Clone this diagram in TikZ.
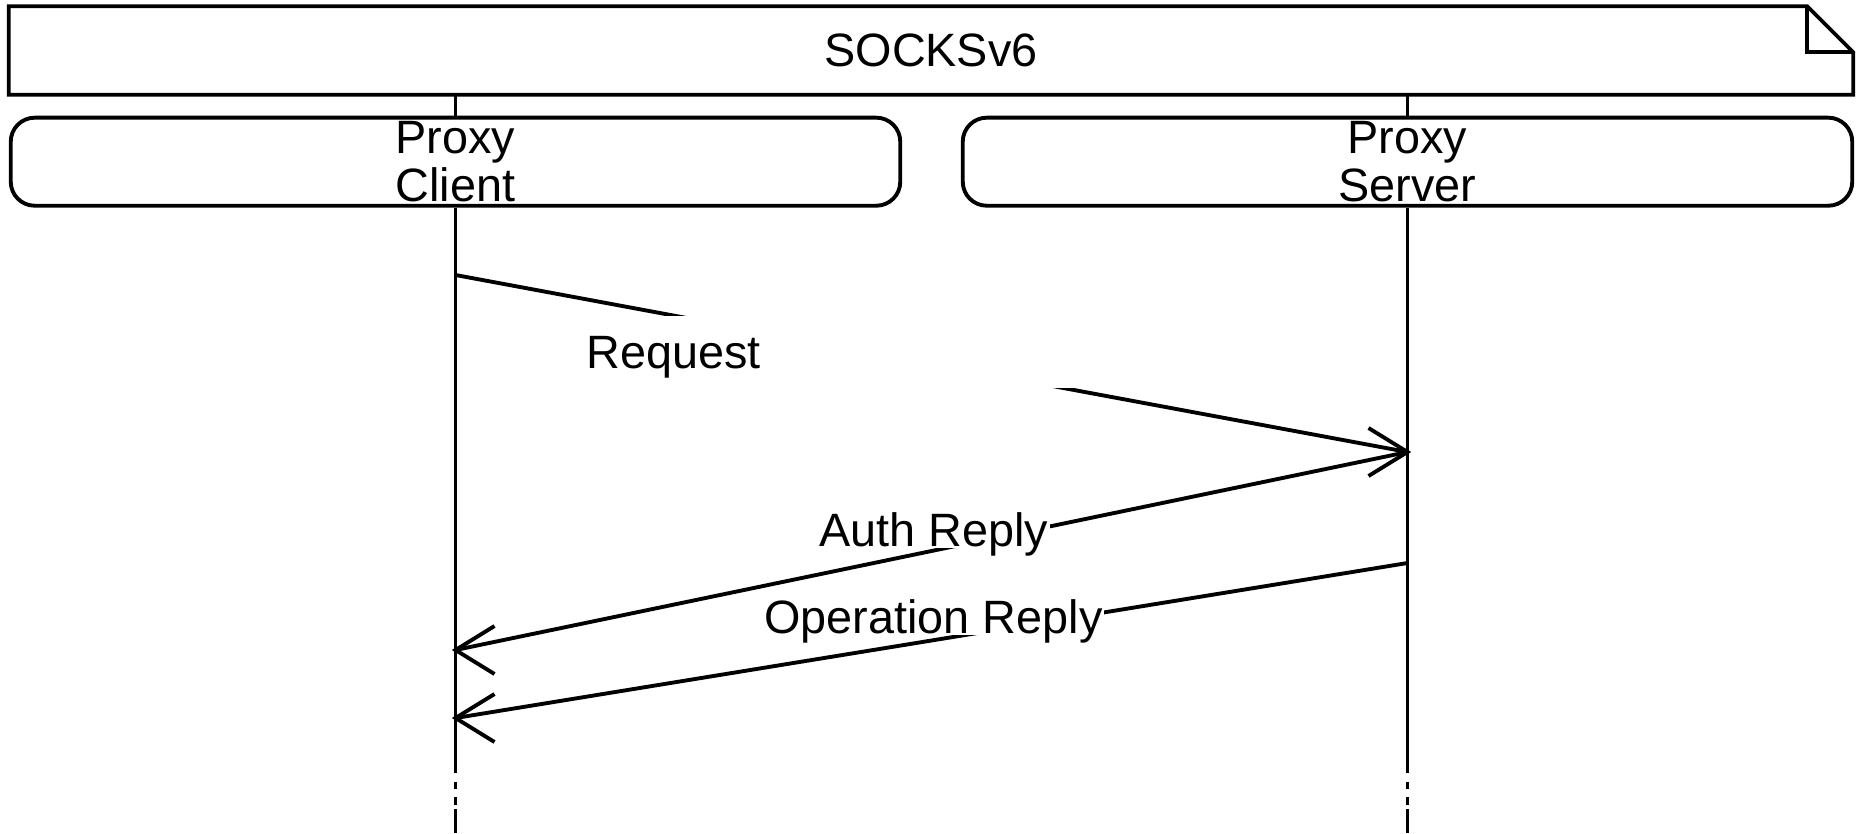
\documentclass[tikz,border=0pt]{standalone}
\usepackage{fontspec}
\setmainfont{Liberation Sans}
\usetikzlibrary{calc,positioning}

\tikzset{
  actor/.style={draw, line width=1.1pt, rounded corners=0.24cm, inner ysep=0pt, minimum width=8.89cm, minimum height=0.88cm, align=center, font=\fontsize{13.3}{13.6}\selectfont},
  lifeline/.style={line width=1.1pt},
  lifelineend/.style={line width=1.1pt, dash pattern=on 0pt off 0.09cm on 0.07cm off 0.08cm on 0.08cm off 0.04cm on 0.3cm},
  msg/.style={line width=1.1pt},
  lbl/.style={fill=white, inner sep=0.5pt, text depth=0pt, font=\fontsize{13.3}{15}\selectfont},
}
% open barb at a lifeline, #2 = -1 points right, 1 points left
\newcommand{\barb}[2]{\draw[msg] ($(#1)+(#2*39,-24)$) -- (#1) -- ($(#1)+(#2*39,24)$);}

\begin{document}
\begin{tikzpicture}[x=0.01cm, y=-0.01cm]
  \useasboundingbox (0,0) rectangle (1864,833);
  % Draw the frame with its title
  \node[minimum width=18.42cm, minimum height=0.87cm, font=\fontsize{13.3}{15}\selectfont] (frame) at (931,50.5) {SOCKSv6};
  \draw[line width=1.1pt] (frame.south west) -- (frame.north west) -- ($(frame.north east)+(-46,0)$) -- ($(frame.north east)+(0,46)$) -- (frame.south east) -- cycle;
  \draw[line width=1.1pt] ($(frame.north east)+(-46,0)$) -- ($(frame.north east)+(-46,46)$) -- ($(frame.north east)+(0,46)$);
  % Draw the two actors
  \node[actor] (client) at (455.5,161.7) {Proxy\\Client};
  \node[actor] (server) at (1407.5,161.7) {Proxy\\Server};
  % Draw lifelines
  \coordinate (clientEnd) at (455.5,773);
  \coordinate (serverEnd) at (1407.5,773);
  \draw[lifeline] (frame.south -| client) -- (client.north);
  \draw[lifeline] (frame.south -| server) -- (server.north);
  \draw[lifeline] (client.south) -- (clientEnd);
  \draw[lifeline] (server.south) -- (serverEnd);
  \draw[lifelineend] (clientEnd) -- ++(0,60);
  \draw[lifelineend] (serverEnd) -- ++(0,60);
  % Message end points
  \coordinate (reqC) at (client.center |- 0,275);
  \coordinate (reqS) at (server.center |- 0,452);
  \coordinate (authC) at (client.center |- 0,650);
  \coordinate (opS) at (server.center |- 0,563);
  \coordinate (opC) at (client.center |- 0,718);
  % Draw messages
  \draw[msg] (reqC) -- node[lbl, text width=6.9cm, align=left, minimum height=0.72cm, yshift=0.115cm] (reqlbl) {Request} (reqS);
  \barb{reqS}{-1}
  \draw[msg] (reqS) -- node[lbl, anchor=base, xshift=0.02cm, yshift=0.05cm] (authlbl) {Auth Reply} (authC);
  \barb{authC}{1}
  \draw[msg] (opS) -- node[lbl, anchor=base, xshift=0.02cm, yshift=0.075cm] (oplbl) {Operation Reply} (opC);
  \barb{opC}{1}
\end{tikzpicture}
\end{document}
